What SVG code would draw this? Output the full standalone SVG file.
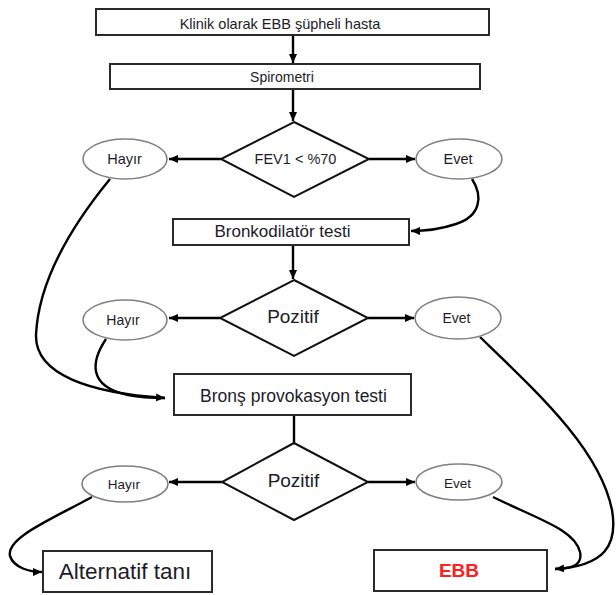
<svg xmlns="http://www.w3.org/2000/svg" width="616" height="595" viewBox="0 0 616 595">
<defs>
<style>
.box{fill:#fff;stroke:#2a2a2a;stroke-width:2}
.dia{fill:#fff;stroke:#111;stroke-width:2}
.ell{fill:#fff;stroke:#808080;stroke-width:1.6}
.t{font-family:"Liberation Sans",Arial,sans-serif;fill:#1c1c28;text-anchor:middle}
.c{fill:none;stroke:#000;stroke-width:2.4}
</style>
<marker id="ah" markerUnits="userSpaceOnUse" markerWidth="10" markerHeight="10" viewBox="0 0 10 10" refX="9" refY="5" orient="auto">
<path d="M0,1 L9,5 L0,9 Z" fill="#000"/>
</marker>
</defs>
<rect width="616" height="595" fill="#fff"/>
<g id="connectors">
<path class="c" d="M293,35 V63" marker-end="url(#ah)"/>
<path class="c" d="M293,89 V121" marker-end="url(#ah)"/>
<path class="c" d="M221,159 H169" marker-end="url(#ah)"/>
<path class="c" d="M369,159 H415" marker-end="url(#ah)"/>
<path class="c" d="M472,179 C483,196 481,216 456,224 C441,229 426,231 411,231" marker-end="url(#ah)"/>
<path class="c" d="M110,179 C60,240 38,290 36,335 C35,375 90,393 165,398" marker-end="url(#ah)"/>
<path class="c" d="M293,245 V279" marker-end="url(#ah)"/>
<path class="c" d="M220,318 H169" marker-end="url(#ah)"/>
<path class="c" d="M368,318 H414" marker-end="url(#ah)"/>
<path class="c" d="M106,339 C92,360 86,386 128,395 C143,398 152,398 165,398"/>
<path class="c" d="M480,337 C540,395 600,450 612,510 C618,545 605,566 555,569" marker-end="url(#ah)"/>
<path class="c" d="M294,415 V443"/>
<path class="c" d="M222,482 H169" marker-end="url(#ah)"/>
<path class="c" d="M368,482 H415" marker-end="url(#ah)"/>
<path class="c" d="M92,497 C50,520 6,538 10,556 C14,568 30,572 42,572" marker-end="url(#ah)"/>
<path class="c" d="M493,497 C540,520 575,530 580,552 C583,566 570,569 555,569"/>
</g>
<g id="n1"><rect class="box" x="96" y="9" width="393" height="26"/><text class="t" x="280" y="29" font-size="14.5">Klinik olarak EBB şüpheli hasta</text></g>
<g id="n2"><rect class="box" x="110" y="64" width="370" height="25"/><text class="t" x="282" y="82" font-size="14">Spirometri</text></g>
<g id="n3"><polygon class="dia" points="294,122 369,159 294,197 221,159"/><text class="t" x="295.5" y="164" font-size="14.5">FEV1 &lt; %70</text></g>
<g id="n4"><ellipse class="ell" cx="125" cy="159" rx="42" ry="20"/><text class="t" x="124.5" y="164" font-size="14.5">Hayır</text></g>
<g id="n5"><ellipse class="ell" cx="459" cy="159" rx="43" ry="20"/><text class="t" x="458" y="164" font-size="14.5">Evet</text></g>
<g id="n6"><rect class="box" x="173" y="219" width="236" height="26"/><text class="t" x="282.5" y="237" font-size="17">Bronkodilatör testi</text></g>
<g id="n7"><polygon class="dia" points="294,280 368,318 294,356 220,318"/><text class="t" x="293" y="323" font-size="19">Pozitif</text></g>
<g id="n8"><ellipse class="ell" cx="125" cy="320" rx="42" ry="20"/><text class="t" x="123" y="325" font-size="14">Hayır</text></g>
<g id="n9"><ellipse class="ell" cx="458" cy="318" rx="43" ry="21"/><text class="t" x="456.5" y="323" font-size="14">Evet</text></g>
<g id="n10"><rect class="box" x="174" y="374" width="237" height="41"/><text class="t" x="293.5" y="402" font-size="17.5">Bronş provokasyon testi</text></g>
<g id="n11"><polygon class="dia" points="294,443 368,482 294,520 222,482"/><text class="t" x="293.5" y="487" font-size="19">Pozitif</text></g>
<g id="n12"><ellipse class="ell" cx="125" cy="484" rx="43" ry="18"/><text class="t" x="124" y="489" font-size="13.5">Hayır</text></g>
<g id="n13"><ellipse class="ell" cx="459" cy="482" rx="43" ry="18"/><text class="t" x="457.5" y="488" font-size="13.5">Evet</text></g>
<g id="n14"><rect class="box" x="43" y="551" width="169" height="41"/><text class="t" x="125" y="579" font-size="22.5">Alternatif tanı</text></g>
<g id="n15"><rect class="box" x="374" y="550" width="173" height="41"/><text class="t" x="459" y="577" font-size="19" font-weight="bold" style="fill:#ff2020">EBB</text></g>
</svg>
